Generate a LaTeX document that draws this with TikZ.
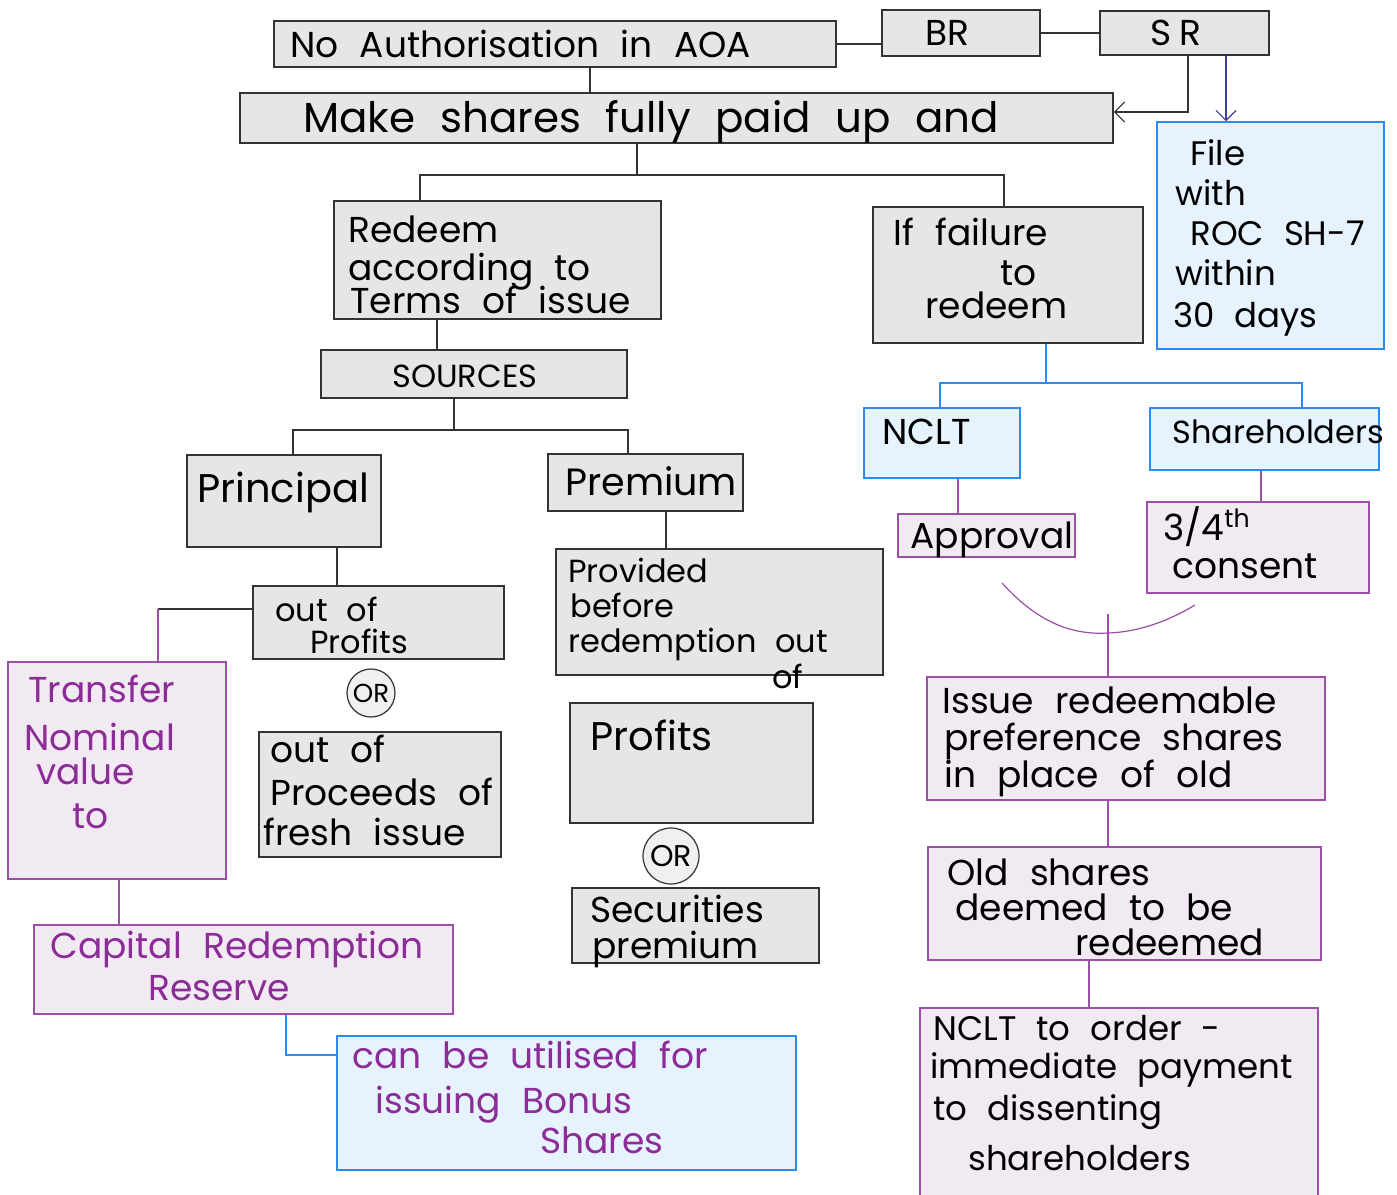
\documentclass[tikz,border=0pt]{standalone}
\usepackage{fontspec}
\setmainfont[WordSpace=2.2]{Poppins}
\usetikzlibrary{fit,arrows.meta}
\definecolor{gfill}{HTML}{E6E6E6}
\definecolor{gline}{HTML}{333333}
\definecolor{bfill}{HTML}{E6F2FE}
\definecolor{bline}{HTML}{2A8CF0}
\definecolor{pfill}{HTML}{F2EAF3}
\definecolor{pline}{HTML}{9B4FA5}
\definecolor{ptext}{HTML}{8B2C97}
\definecolor{arrind}{HTML}{40409A}
\newcommand\fsz[1]{\fontsize{#1}{#1}\selectfont}
\begin{document}
\begin{tikzpicture}[x=0.5pt,y=-0.5pt,
 gbox/.style={draw=gline,fill=gfill,line width=0.75pt,inner sep=0pt,rectangle},
 bbox/.style={draw=bline,fill=bfill,line width=0.75pt,inner sep=0pt,rectangle},
 pbox/.style={draw=pline,fill=pfill,line width=0.75pt,inner sep=0pt,rectangle},
 txt/.style={anchor=base west,inner sep=0pt,font=\fsz{18}},
 stxt/.style={txt,font=\fsz{16}},
 ptxt/.style={txt,text=ptext},
 gl/.style={draw=gline,line width=0.6pt},
 bl/.style={draw=bline,line width=0.6pt},
 pl/.style={draw=pline,line width=0.6pt},
 orc/.style={circle,draw=gline,fill=gfill!60,line width=0.6pt,inner sep=0pt},
 barb/.style={-{Straight Barb[length=5pt,width=10pt]}}
]
\clip (0,0) rectangle (1397,1194);
\fill[white] (0,0) rectangle (1397,1194);

% boxes
\node[gbox,fit={(274,21)(836,67)}] (aoa) {};
\node[gbox,fit={(882,10)(1040,56)}] (br) {};
\node[gbox,fit={(1100,11)(1269,55)}] (sr) {};
\node[gbox,fit={(240,93)(1113,143)}] (mk) {};
\node[gbox,fit={(334,201)(661,319)}] (redeem) {};
\node[gbox,fit={(873,207)(1143,343)}] (fail) {};
\node[gbox,fit={(321,350)(627,398)}] (sources) {};
\node[gbox,fit={(187,455)(381,547)}] (principal) {};
\node[gbox,fit={(548,454)(743,511)}] (premium) {};
\node[gbox,fit={(253,586)(504,659)}] (oop) {};
\node[gbox,fit={(259,732)(501,857)}] (oopf) {};
\node[gbox,fit={(556,549)(883,675)}] (prov) {};
\node[gbox,fit={(570,703)(813,823)}] (prof) {};
\node[gbox,fit={(572,888)(819,963)}] (sec) {};
\node[orc,minimum size=24pt,font=\fsz{13}] (or1) at (371,693) {OR};
\node[orc,minimum size=28pt,font=\fsz{15}] (or2) at (671,856) {OR};

\node[bbox,fit={(1157,122)(1384,349)}] (file) {};
\node[bbox,fit={(864,408)(1020,478)}] (nclt) {};
\node[bbox,fit={(1150,408)(1379,470)}] (shh) {};
\node[bbox,fit={(337,1036)(796,1170)}] (bonus) {};

\node[pbox,fit={(898,514)(1075,557)}] (appr) {};
\node[pbox,fit={(1147,502)(1369,593)}] (cons) {};
\node[pbox,fit={(927,677)(1325,800)}] (issue) {};
\node[pbox,fit={(928,847)(1321,960)}] (old) {};
\node[pbox,fit={(920,1008)(1318,1210)}] (order) {};
\node[pbox,fit={(8,662)(226,879)}] (tnv) {};
\node[pbox,fit={(34,925)(453,1014)}] (crr) {};

% helper coordinates
\coordinate (x590) at (590,0);
\coordinate (x1188) at (1188,0);
\coordinate (x1226) at (1226,0);
\coordinate (j1) at (637,175);
\coordinate (x420) at (420,0);
\coordinate (x1004) at (1004,0);
\coordinate (x437) at (437,0);
\coordinate (j2) at (454,430);
\coordinate (x293) at (293,0);
\coordinate (x628) at (628,0);
\coordinate (x337) at (337,0);
\coordinate (j3) at (158,609);
\coordinate (x666) at (666,0);
\coordinate (x119) at (119,0);
\coordinate (j4) at (286,1055);
\coordinate (j5) at (1046,383);
\coordinate (x940) at (940,0);
\coordinate (x1302) at (1302,0);
\coordinate (x958) at (958,0);
\coordinate (x1261) at (1261,0);
\coordinate (j6) at (1108,614);
\coordinate (x1089) at (1089,0);

% connectors
\draw[gl] (aoa.south -| x590) -- (mk.north -| x590);
\draw[gl] (aoa.east) -- (aoa.east -| br.west);
\draw[gl] (br.east) -- (br.east -| sr.west);
\draw[gl,barb] (sr.south -| x1188) |- ([yshift=3pt]mk.east);
\draw[draw=arrind,line width=0.6pt,barb] (sr.south -| x1226) -- (file.north -| x1226);
\draw[gl] (mk.south -| j1) -- (j1);
\draw[gl] (redeem.north -| x420) |- (j1);
\draw[gl] (fail.north -| x1004) |- (j1);
\draw[gl] (redeem.south -| x437) -- (sources.north -| x437);
\draw[gl] (sources.south -| j2) -- (j2);
\draw[gl] (principal.north -| x293) |- (j2);
\draw[gl] (premium.north -| x628) |- (j2);
\draw[gl] (principal.south -| x337) -- (oop.north -| x337);
\draw[gl] (oop.west |- j3) -- (j3);
\draw[pl] (j3) -- (tnv.north -| j3);
\draw[gl] (premium.south -| x666) -- (prov.north -| x666);
\draw[pl] (tnv.south -| x119) -- (crr.north -| x119);
\draw[bl] (crr.south -| j4) -- (j4) -- (bonus.west |- j4);
\draw[bl] (fail.south -| j5) -- (j5);
\draw[bl] (nclt.north -| x940) |- (j5);
\draw[bl] (shh.north -| x1302) |- (j5);
\draw[pl] (nclt.south -| x958) -- (appr.north -| x958);
\draw[pl] (shh.south -| x1261) -- (cons.north -| x1261);
\draw[pl] (1002,583) .. controls (1040,625) and (1075,635) .. (1108,633) .. controls (1140,632) and (1170,620) .. (1195,605);
\draw[pl] (j6) -- (issue.north -| j6);
\draw[pl] (issue.south -| j6) -- (old.north -| j6);
\draw[pl] (old.south -| x1089) -- (order.north -| x1089);

% texts
\node[txt] (t1) at (290,57) {No Authorisation in AOA};
\node[txt] (t2) at (925,46) {BR};
\node[txt] (t3) at (1150,45) {S\kern4pt R};
\node[txt,font=\fsz{21}] (t4) at (303,132) {Make shares fully paid up and};
\node[txt] (t5a) at (348,242) {Redeem};
\node[txt] (t5b) at (348,280) {according to};
\node[txt] (t5c) at (350,313) {Terms of issue};
\node[txt] (t6a) at (893,245) {If failure};
\node[txt] (t6b) at (1000,285) {to};
\node[txt] (t6c) at (925,318) {redeem};
\node[txt,font=\fsz{16}] (t7) at (392,387) {SOURCES};
\node[txt,font=\fsz{20}] (t8) at (197,502) {Principal};
\node[txt,font=\fsz{19}] (t9) at (565,495) {Premium};
\node[stxt] (t10a) at (275,621) {out of};
\node[stxt] (t10b) at (310,653) {Profits};
\node[txt] (t12a) at (270,762) {out of};
\node[txt] (t12b) at (270,805) {Proceeds of};
\node[txt] (t12c) at (263,845) {fresh issue};
\node[stxt] (t13a) at (568,582) {Provided};
\node[stxt] (t13b) at (570,617) {before};
\node[stxt] (t13c) at (568,652) {redemption out};
\node[stxt] (t13d) at (772,688) {of};
\node[txt,font=\fsz{20}] (t14) at (590,750) {Profits};
\node[txt] (t16a) at (590,922) {Securities};
\node[txt] (t16b) at (592,958) {premium};
\node[txt,font=\fsz{17}] (t17a) at (1190,165) {File};
\node[txt,font=\fsz{17}] (t17b) at (1175,205) {with};
\node[txt,font=\fsz{17}] (t17c) at (1190,245) {ROC SH-7};
\node[txt,font=\fsz{17}] (t17d) at (1175,285) {within};
\node[txt,font=\fsz{17}] (t17e) at (1173,327) {30 days};
\node[txt] (t18) at (882,444) {NCLT};
\node[txt,font=\fsz{16}] (t19) at (1172,443) {Shareholders};
\node[ptxt] (t20a) at (352,1068) {can be utilised for};
\node[ptxt] (t20b) at (375,1113) {issuing Bonus};
\node[ptxt] (t20c) at (540,1153) {Shares};
\node[txt] (t21) at (910,548) {Approval};
\node[txt] (t22a) at (1163,540) {3/4\textsuperscript{th}};
\node[txt] (t22b) at (1172,578) {consent};
\node[txt] (t23a) at (942,713) {Issue redeemable};
\node[txt] (t23b) at (944,750) {preference shares};
\node[txt] (t23c) at (944,787) {in place of old};
\node[txt] (t24a) at (947,885) {Old shares};
\node[txt] (t24b) at (955,920) {deemed to be};
\node[txt] (t24c) at (1075,955) {redeemed};
\node[txt,font=\fsz{17}] (t25a) at (933,1040) {NCLT to order -};
\node[txt,font=\fsz{17}] (t25b) at (930,1078) {immediate payment};
\node[txt,font=\fsz{17}] (t25c) at (933,1120) {to dissenting};
\node[txt,font=\fsz{17}] (t25d) at (968,1170) {shareholders};
\node[ptxt] (t26a) at (28,702) {Transfer};
\node[ptxt] (t26b) at (24,750) {Nominal};
\node[ptxt] (t26c) at (36,784) {value};
\node[ptxt] (t26d) at (72,828) {to};
\node[ptxt] (t27a) at (50,958) {Capital Redemption};
\node[ptxt] (t27b) at (148,1000) {Reserve};
\end{tikzpicture}
\end{document}
